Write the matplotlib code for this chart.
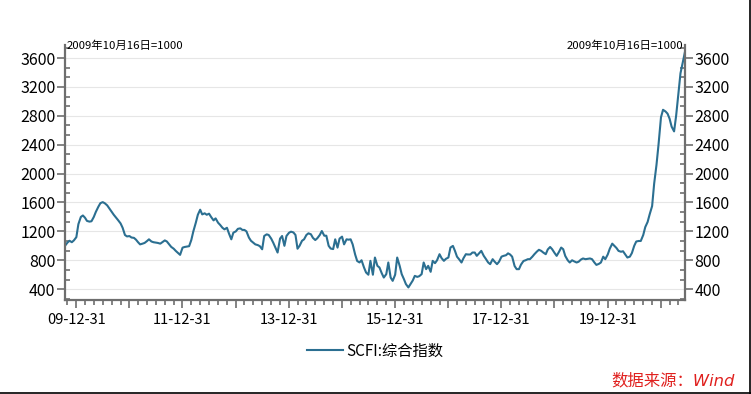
import matplotlib
matplotlib.use("Agg")
import matplotlib.pyplot as plt
import matplotlib.dates as mdates
from matplotlib.ticker import AutoMinorLocator
from matplotlib.lines import Line2D
import pandas as pd

plt.rcParams['font.family'] = ['Noto Sans CJK SC', 'DejaVu Sans']

# SCFI composite index, twice a month (1st and 15th)
v2009 = [1000, 1045, 1070, 1050, 1075]
v2010 = [1120, 1300, 1400, 1420, 1390, 1345, 1335, 1340, 1400, 1470, 1540, 1590,
         1605, 1590, 1560, 1520, 1470, 1430, 1390, 1355, 1310, 1250, 1150, 1130]
v2011 = [1135, 1115, 1110, 1085, 1050, 1020, 1030, 1040, 1065, 1090, 1060, 1050,
         1045, 1040, 1030, 1050, 1075, 1060, 1020, 985, 960, 930, 900, 875]
v2012 = [975, 984, 990, 995, 1080, 1200, 1320, 1430, 1500, 1435, 1450, 1430,
         1445, 1400, 1352, 1380, 1320, 1290, 1250, 1228, 1250, 1170, 1090, 1182]
v2013 = [1200, 1235, 1242, 1220, 1220, 1200, 1114, 1070, 1044, 1020, 1010, 995,
         952, 1136, 1159, 1150, 1100, 1044, 970, 907, 1100, 1136, 1000, 1136]
v2014 = [1180, 1196, 1185, 1150, 960, 1000, 1070, 1090, 1150, 1173, 1160, 1110,
         1080, 1105, 1150, 1205, 1140, 1140, 1000, 962, 955, 1090, 975, 1100]
v2015 = [1127, 1020, 1090, 1085, 1090, 1020, 880, 790, 770, 800, 700, 631,
         600, 792, 600, 838, 723, 700, 620, 561, 608, 769, 561, 515]
v2016 = [600, 838, 723, 608, 540, 470, 424, 470, 520, 584, 570, 580,
         608, 769, 677, 723, 640, 792, 760, 800, 884, 830, 792, 820]
v2017 = [838, 976, 999, 930, 850, 815, 769, 830, 884, 880, 880, 907,
         907, 861, 900, 930, 861, 820, 770, 746, 815, 780, 746, 780]
v2018 = [850, 861, 870, 896, 880, 850, 720, 677, 677, 740, 790, 800,
         815, 815, 850, 884, 920, 945, 930, 907, 884, 950, 984, 953]
v2019 = [900, 861, 920, 976, 953, 860, 800, 769, 800, 785, 769, 780,
         810, 825, 815, 820, 825, 815, 770, 736, 750, 769, 850, 815]
v2020 = [880, 960, 1030, 1000, 970, 930, 918, 925, 880, 838, 850, 900,
         1000, 1060, 1067, 1067, 1150, 1260, 1330, 1435, 1550, 1860, 2120, 2400]
v2021 = [2780, 2883, 2860, 2830, 2760, 2650, 2584, 2800, 3113, 3389, 3550, 3687]

scfi = v2009 + v2010 + v2011 + v2012 + v2013 + v2014 + v2015 + v2016 + \
    v2017 + v2018 + v2019 + v2020 + v2021
dates = pd.date_range('2009-10-15', '2021-06-15', freq='SMS')

y_ticks = [400, 800, 1200, 1600, 2000, 2400, 2800, 3200, 3600]
year_ticks = pd.date_range('2009-12-31', '2020-12-31', freq='YE')
year_labels = [d.strftime('%y-%m-%d') if d.year % 2 == 1 else '' for d in year_ticks]

fig = plt.figure(figsize=(7.51, 3.94), dpi=100)
ax = fig.add_axes([65 / 751, 94 / 394, 620 / 751, 255 / 394])

ax.plot(dates, scfi, color='#2b6f91', lw=1.5, label='SCFI:综合指数')

ax.set_ylim(250, 3780)
ax.set_xlim(pd.Timestamp('2009-10-15'), pd.Timestamp('2021-06-15'))
ax.set_yticks(y_ticks)
ax.yaxis.set_minor_locator(AutoMinorLocator(3))
ax.set_xticks(year_ticks)
ax.set_xticklabels(year_labels)
ax.xaxis.set_minor_locator(mdates.MonthLocator(bymonth=[3, 5, 7, 9, 11], bymonthday=1))

ax.grid(axis='y', which='major', color='#e6e6e6', lw=0.8)
ax.set_axisbelow(True)

for s in ['left', 'right', 'bottom']:
    ax.spines[s].set_color('#6e6e6e')
    ax.spines[s].set_linewidth(1.6)
ax.spines['top'].set_visible(False)

ax.tick_params(axis='y', which='major', direction='out', left=True, right=True,
               labelleft=True, labelright=True, length=6, width=1.2,
               color='#6e6e6e', labelsize=11.5, pad=1)
ax.tick_params(axis='y', which='minor', direction='in', left=True, right=True,
               length=3.5, width=1.2, color='#6e6e6e')
ax.tick_params(axis='x', which='major', direction='out', length=6, width=1.2,
               color='#6e6e6e', labelsize=10.5, pad=3)
ax.tick_params(axis='x', which='minor', direction='out', length=3.5, width=1.2,
               color='#6e6e6e')

ax.text(2 / 620, 1 - 1 / 255, '2009年10月16日=1000', transform=ax.transAxes,
        ha='left', va='center', fontsize=8.2)
ax.text(1 - 2 / 620, 1 - 1 / 255, '2009年10月16日=1000', transform=ax.transAxes,
        ha='right', va='center', fontsize=8.2)

fig.legend(loc='center', bbox_to_anchor=(375 / 751, 1 - 351 / 394), frameon=False,
           fontsize=11, handlelength=2.4, handletextpad=0.2)

fig.text(735 / 751, 1 - 381 / 394, '数据来源：Wind', ha='right', va='center',
         color='#e0201e', fontsize=11.8, style='italic',
         family=['DejaVu Sans', 'Noto Sans CJK SC'])

# thin frame on the right and bottom edge of the picture
fig.add_artist(Line2D([0, 1], [0.6 / 394, 0.6 / 394], color='black', lw=1.2,
                      transform=fig.transFigure))
fig.add_artist(Line2D([750.4 / 751, 750.4 / 751], [0, 1], color='black', lw=1.2,
                      transform=fig.transFigure))

fig.savefig('out.png', dpi=100)
